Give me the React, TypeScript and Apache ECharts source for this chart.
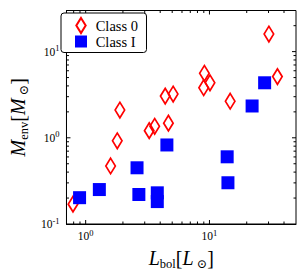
import React, { useEffect, useRef } from "react";
import * as echarts from "echarts";

const class0L = [0.79, 1.59, 1.8, 1.89, 3.26, 3.61, 4.39, 5.09, 4.66, 9.1, 10.1, 8.98, 14.7, 30.2, 35.4];
const class0M = [0.17, 0.471, 0.924, 2.1, 1.21, 1.36, 3.05, 3.22, 1.48, 5.61, 4.35, 3.81, 2.66, 16.0, 5.13];
const class1L = [0.893, 1.29, 2.6, 2.69, 3.79, 3.79, 4.53, 13.9, 14.1, 22.1, 27.9];
const class1M = [0.202, 0.251, 0.449, 0.22, 0.23, 0.182, 0.826, 0.602, 0.301, 2.34, 4.35];

const X_MIN = 0.7;
const X_MAX = 50;
const Y_MIN = 0.1;
const Y_MAX = 30;
const xMajorTicks = [1, 10];
const xMinorTicks = [0.8, 0.9, 2, 3, 4, 5, 6, 7, 8, 9, 20, 30, 40];
const yMajorTicks = [1, 10];
const yMinorTicks = [0.2, 0.3, 0.4, 0.5, 0.6, 0.7, 0.8, 0.9, 2, 3, 4, 5, 6, 7, 8, 9, 20];

const SERIF = "'Liberation Serif', 'DejaVu Serif', serif";

function powLabel(v: number): string {
  const e = Math.log10(v);
  const r = Math.round(e);
  if (Math.abs(e - r) > 1e-6) return "";
  return "{b|10}{sup|" + (r < 0 ? "-" + -r : String(r)) + "}";
}

const tickRich = {
  b: { fontFamily: SERIF, fontSize: 11.5, lineHeight: 16, color: "#000" },
  sup: { fontFamily: SERIF, fontSize: 8.5, lineHeight: 9, verticalAlign: "top", color: "#000" },
};

const nameRich = {
  i: { fontFamily: SERIF, fontStyle: "italic", fontSize: 20, lineHeight: 24, color: "#000" },
  n: { fontFamily: SERIF, fontSize: 20, lineHeight: 24, color: "#000" },
  s: { fontFamily: SERIF, fontSize: 12.5, lineHeight: 11, verticalAlign: "bottom", color: "#000" },
};

export default function App() {
  const ref = useRef<HTMLDivElement>(null);
  useEffect(() => {
    if (!ref.current) return;
    const chart = echarts.init(ref.current, null, { renderer: "svg" });
    const tickData: number[][] = [
      ...xMajorTicks.map((v) => [v, Y_MIN, 4, 0]),
      ...xMinorTicks.map((v) => [v, Y_MIN, 2.5, 0]),
      ...yMajorTicks.map((v) => [X_MIN, v, 4, 1]),
      ...yMinorTicks.map((v) => [X_MIN, v, 2.5, 1]),
    ];
    chart.setOption({
      animation: false,
      grid: {
        left: 57,
        top: 10.5,
        width: 239,
        height: 216.5,
        show: true,
        borderColor: "#000",
        borderWidth: 1,
        backgroundColor: "transparent",
      },
      legend: {
        orient: "vertical",
        left: 61,
        top: 13,
        padding: [4, 8.5, 3.5, 14],
        itemWidth: 12,
        itemHeight: 15,
        itemGap: 0,
        borderColor: "#000",
        borderWidth: 1,
        borderRadius: 3,
        backgroundColor: "#fff",
        symbolKeepAspect: true,
        textStyle: { fontFamily: SERIF, fontSize: 14.5, color: "#000", padding: [0, 0, 0, 3.7] },
        data: [
          { name: "Class 0", icon: "path://M5,0L10,8L5,16L0,8Z" },
          { name: "Class I", icon: "path://M0,0L10,0L10,10L0,10Z" },
        ],
      },
      xAxis: {
        type: "log",
        logBase: 10,
        min: X_MIN,
        max: X_MAX,
        axisLine: { show: true, lineStyle: { color: "#000", width: 1 } },
        axisTick: { show: false },
        splitLine: { show: false },
        axisLabel: { margin: 4, formatter: (v: number) => powLabel(v), rich: tickRich },
        name: "{i|L}{s|bol}{n|[}{i|L}{s| ⊙}{n|]}",
        nameLocation: "middle",
        nameGap: 22,
        nameTextStyle: { rich: nameRich },
      },
      yAxis: {
        type: "log",
        logBase: 10,
        min: Y_MIN,
        max: Y_MAX,
        axisLine: { show: true, lineStyle: { color: "#000", width: 1 } },
        axisTick: { show: false },
        splitLine: { show: false },
        axisLabel: { margin: 7, formatter: (v: number) => powLabel(v), rich: tickRich },
        name: "{i|M}{s|env}{n|[}{i|M}{s| ⊙}{n|]}",
        nameLocation: "middle",
        nameGap: 34,
        nameRotate: 90,
        nameTextStyle: { rich: nameRich },
      },
      series: [
        {
          type: "custom",
          silent: true,
          clip: false,
          data: tickData,
          renderItem: (params: any, api: any) => {
            const cs = params.coordSys;
            const len = api.value(2);
            const dir = api.value(3);
            const st = { stroke: "#000", lineWidth: 1 };
            if (dir === 0) {
              const p = api.coord([api.value(0), Y_MIN]);
              const x = p[0];
              return {
                type: "group",
                children: [
                  { type: "line", shape: { x1: x, y1: cs.y + cs.height, x2: x, y2: cs.y + cs.height - len }, style: st },
                  { type: "line", shape: { x1: x, y1: cs.y, x2: x, y2: cs.y + len }, style: st },
                ],
              };
            }
            const p = api.coord([X_MIN, api.value(1)]);
            const y = p[1];
            return {
              type: "group",
              children: [
                { type: "line", shape: { x1: cs.x, y1: y, x2: cs.x + len, y2: y }, style: st },
                { type: "line", shape: { x1: cs.x + cs.width, y1: y, x2: cs.x + cs.width - len, y2: y }, style: st },
              ],
            };
          },
        },
        {
          name: "Class 0",
          type: "scatter",
          symbol: "diamond",
          symbolSize: [9.5, 15.5],
          itemStyle: { color: "rgba(255,255,255,0)", borderColor: "#ff0000", borderWidth: 1.8, opacity: 1 },
          data: class0L.map((v, i) => [v, class0M[i]]),
        },
        {
          name: "Class I",
          type: "scatter",
          symbol: "rect",
          symbolSize: 13,
          itemStyle: { color: "#0000ff", opacity: 1 },
          data: class1L.map((v, i) => [v, class1M[i]]),
        },
      ],
    });
    return () => chart.dispose();
  }, []);
  return (
    <div
      ref={ref}
      style={{ position: "fixed", left: 0, top: 0, width: 302, height: 275, background: "#fff" }}
    />
  );
}
